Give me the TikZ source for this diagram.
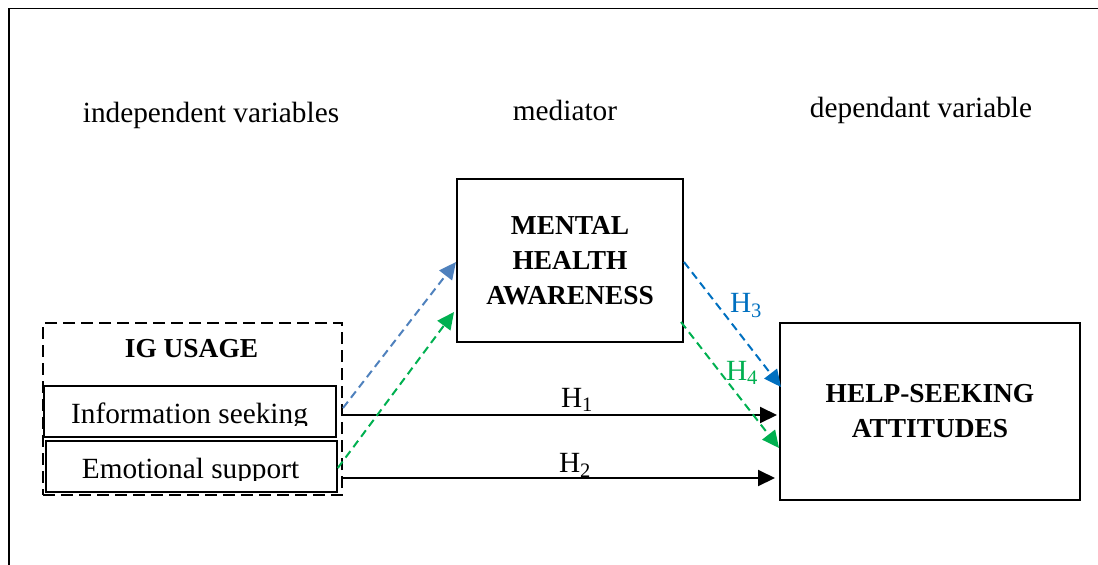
\documentclass[tikz,border=0pt]{standalone}
\usepackage{fontspec}
\setmainfont{Liberation Serif}
\usetikzlibrary{arrows.meta}
\definecolor{blueA}{HTML}{4F81BD}
\definecolor{blueB}{HTML}{0070C0}
\definecolor{greenA}{HTML}{00B050}
\begin{document}
\begin{tikzpicture}[x=1pt,y=-1pt,
  reg/.style={font=\fontsize{29.3}{34}\selectfont, inner sep=0pt},
  bld/.style={font=\bfseries\fontsize{27.4}{35}\selectfont, inner sep=0pt, align=center},
  box/.style={draw, line width=2pt, inner sep=0pt},
  arr/.style={-{Triangle[length=17pt,width=16pt]}, line width=2pt},
  dsh/.style={arr, dash pattern=on 8pt off 5pt},
  ]
\useasboundingbox (0,0) rectangle (1098,565);
\draw[line width=1.6pt] (9,565) -- (9,8.5) -- (1098,8.5);

% headers
\node[reg, anchor=base] (hind) at (211,122) {independent variables};
\node[reg, anchor=base] (hmed) at (565,120) {mediator};
\node[reg, anchor=base] (hdep) at (921,117) {dependant variable};

% boxes
\node[box, bld, minimum width=226pt, minimum height=163pt] (mha) at (570,260.5) {MENTAL\\HEALTH\\AWARENESS};
\node[box, bld, minimum width=300pt, minimum height=177pt] (help) at (930,411.5) {HELP-SEEKING\\ATTITUDES};

\node[box, dash pattern=on 12pt off 6pt, minimum width=299pt, minimum height=172pt] (ig) at (192.5,409) {};
\node[bld, anchor=base] (igt) at (191.5,357) {IG USAGE};

\node[box, line width=1.6pt, minimum width=292pt, minimum height=51pt] (info) at (190,411.5) {};
\node[box, line width=1.6pt, minimum width=291pt, minimum height=51pt] (emo) at (191.5,466.5) {};
\begin{scope}
  \clip (44,386) rectangle (336,425.5);
  \node[reg, anchor=base] (infot) at (189.5,423) {Information seeking};
\end{scope}
\begin{scope}
  \clip (46,441) rectangle (337,480.5);
  \node[reg, anchor=base] (emot) at (190.5,478) {Emotional support};
\end{scope}

% connectors
\draw[arr, shorten >=2pt] (ig.east |- 0,415) -- (help.west |- 0,415);
\draw[arr, shorten >=4pt] (ig.east |- 0,478) -- (help.west |- 0,478);
\draw[dsh, blueA] (ig.east |- 0,408) -- (mha.west |- 0,262);
\draw[dsh, greenA] (emo.east |- 0,468) -- ([xshift=-2pt]mha.west |- 0,312);
\draw[dsh, blueB] (mha.east |- 0,262) -- ([xshift=2pt]help.west |- 0,387);
\draw[dsh, greenA] ([xshift=-3pt]mha.east |- 0,322) -- (help.west |- 0,448);

% labels
\node[reg, anchor=base] (l1) at (577,407) {H\textsubscript{1}};
\node[reg, anchor=base] (l2) at (575,472) {H\textsubscript{2}};
\node[reg, anchor=base, text=blueB] (l3) at (746,312) {H\textsubscript{3}};
\node[reg, anchor=base, text=greenA] (l4) at (742,380) {H\textsubscript{4}};
\end{tikzpicture}
\end{document}
